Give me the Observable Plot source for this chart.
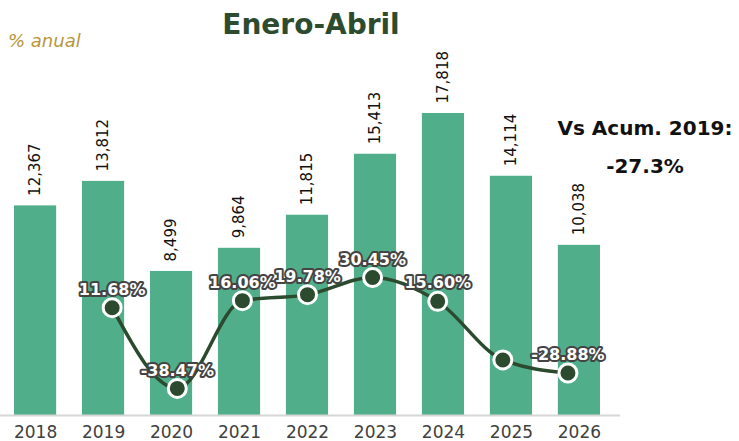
<!DOCTYPE html>
<html><head><meta charset="utf-8">
<script src="https://cdn.jsdelivr.net/npm/d3@7"></script>
<script src="https://cdn.jsdelivr.net/npm/@observablehq/plot@0.6"></script>
<style>
body{margin:0;background:#fff;font-family:"DejaVu Sans",sans-serif;}
#wrap{position:relative;width:739px;height:441px;overflow:hidden;}
#wrap svg{position:absolute;left:0;top:0;}
.t{position:absolute;white-space:nowrap;}
</style></head><body>
<div id="wrap">
<div class="t" style="left:0;width:622px;top:8px;text-align:center;font-size:28px;font-weight:700;color:#2c4b2f;">Enero-Abril</div>
<div class="t" style="left:8px;top:30px;font-size:18px;font-style:italic;color:#b8953a;">% anual</div>
<div class="t" style="left:545px;width:200px;top:109px;text-align:center;font-size:20px;font-weight:700;color:#111;line-height:38px;">Vs Acum. 2019:<br>-27.3%</div>
</div>
<script>
const years = ["2018","2019","2020","2021","2022","2023","2024","2025","2026"];
const values = [12367,13812,8499,9864,11815,15413,17818,14114,10038];
const pctYears = ["2019","2020","2021","2022","2023","2024","2025","2026"];
const pctValues = [11.68,-38.47,16.06,19.78,30.45,15.60,-20.79,-28.88];
const pctLabels = ["11.68%","-38.47%","16.06%","19.78%","30.45%","15.60%","","-28.88%"];

const bars = years.map((y,i)=>({year:y, value:values[i], label:d3.format(",")(values[i])}));
const pcts = pctYears.map((y,i)=>({year:y, pct:pctValues[i], label:pctLabels[i]}));

const common = {
  width:739, height:441, marginLeft:14, marginRight:139, marginTop:76, marginBottom:26,
  x:{domain:years, paddingInner:0.38, paddingOuter:0, round:false, axis:null},
  style:{fontFamily:"DejaVu Sans, sans-serif", background:"transparent", overflow:"visible"}
};

const p1 = Plot.plot({
  ...common,
  x:{...common.x, axis:"bottom", tickSize:0, tickPadding:10, label:null},
  y:{domain:[0,20000], axis:null},
  marks:[
    Plot.barY(bars,{x:"year", y:"value", fill:"#50af8a"}),
    Plot.ruleY([0],{stroke:"#d6d6d6", strokeWidth:2, insetLeft:-14, insetRight:-20}),
    Plot.text(bars,{x:"year", y:"value", text:"label", rotate:-90, textAnchor:"start", dy:-10, fontSize:15, fill:"#111"})
  ]
});
p1.querySelectorAll('g[aria-label="x-axis tick label"]').forEach(e=>{e.setAttribute("font-size","17");e.setAttribute("fill","#404040");});

const p2 = Plot.plot({
  ...common,
  y:{domain:[-55.3,155.3], axis:null},
  marks:[
    Plot.line(pcts,{x:"year", y:"pct", curve:"monotone-x", stroke:"#2b4a2e", strokeWidth:3.5}),
    Plot.dot(pcts,{x:"year", y:"pct", r:9, fill:"#2b4a2e", stroke:"#fff", strokeWidth:3}),
    Plot.text(pcts,{x:"year", y:"pct", text:"label", dy:-18, fontSize:16, fontWeight:700, fill:"#fff", stroke:"#444", strokeWidth:4})
  ]
});
const w = document.getElementById("wrap");
w.insertBefore(p2, w.firstChild);
w.insertBefore(p1, w.firstChild);
</script>
</body></html>
